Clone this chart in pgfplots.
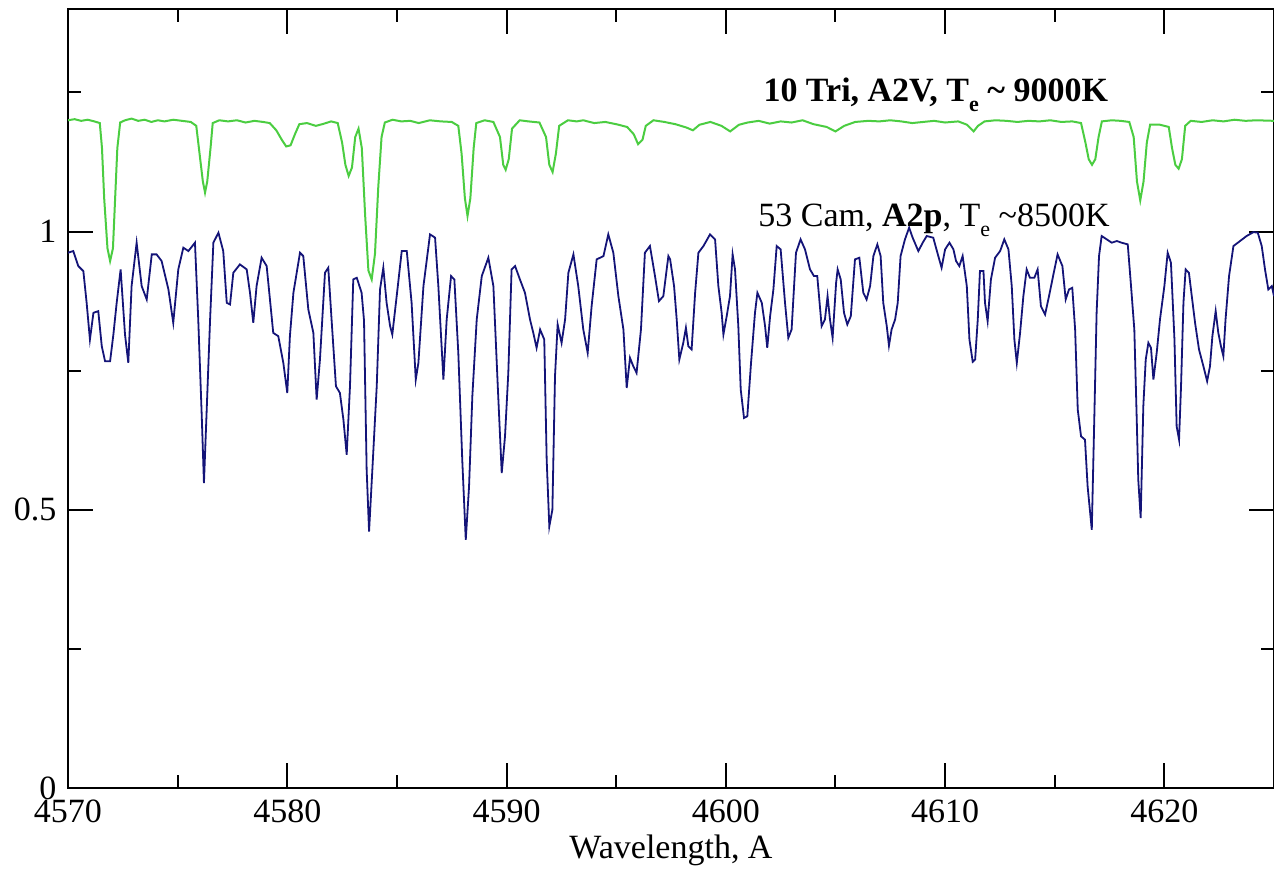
\documentclass[border=0pt]{standalone}
\usepackage{fontspec}
\setmainfont{Liberation Serif}
\usepackage{pgfplots}
\pgfplotsset{compat=1.18}
\definecolor{specgreen}{RGB}{75,205,65}
\definecolor{specblue}{RGB}{20,20,120}
\pgfplotstableread{
x y
4570.00 1.200
4570.30 1.202
4570.60 1.199
4570.90 1.201
4571.20 1.198
4571.45 1.195
4571.55 1.150
4571.65 1.060
4571.80 0.970
4571.92 0.947
4572.05 0.970
4572.15 1.060
4572.25 1.150
4572.38 1.196
4572.60 1.200
4572.90 1.203
4573.20 1.199
4573.50 1.201
4573.80 1.197
4574.10 1.200
4574.40 1.198
4574.80 1.201
4575.20 1.199
4575.60 1.197
4575.85 1.190
4576.00 1.140
4576.15 1.090
4576.25 1.070
4576.35 1.090
4576.50 1.150
4576.60 1.195
4576.90 1.200
4577.30 1.198
4577.70 1.200
4578.10 1.196
4578.50 1.199
4578.90 1.197
4579.20 1.195
4579.50 1.182
4579.75 1.165
4579.95 1.153
4580.15 1.155
4580.35 1.175
4580.55 1.193
4580.90 1.195
4581.30 1.190
4581.60 1.193
4582.00 1.198
4582.30 1.195
4582.50 1.160
4582.65 1.120
4582.80 1.100
4582.95 1.115
4583.10 1.170
4583.25 1.185
4583.40 1.150
4583.55 1.030
4583.70 0.930
4583.85 0.914
4584.00 0.960
4584.15 1.080
4584.30 1.170
4584.45 1.196
4584.80 1.201
4585.20 1.198
4585.60 1.199
4586.00 1.195
4586.50 1.200
4587.00 1.198
4587.50 1.197
4587.80 1.190
4587.95 1.140
4588.10 1.060
4588.22 1.028
4588.35 1.060
4588.50 1.150
4588.62 1.195
4589.00 1.200
4589.40 1.197
4589.70 1.170
4589.85 1.120
4589.96 1.111
4590.10 1.130
4590.25 1.185
4590.60 1.200
4591.00 1.198
4591.50 1.196
4591.80 1.170
4591.95 1.120
4592.10 1.107
4592.25 1.140
4592.40 1.190
4592.80 1.200
4593.20 1.198
4593.50 1.200
4594.00 1.195
4594.50 1.197
4595.00 1.193
4595.50 1.188
4595.80 1.175
4596.00 1.157
4596.20 1.165
4596.35 1.190
4596.70 1.200
4597.20 1.197
4597.70 1.193
4598.20 1.187
4598.50 1.182
4598.80 1.192
4599.30 1.197
4599.80 1.190
4600.20 1.180
4600.60 1.192
4601.00 1.196
4601.50 1.199
4602.00 1.194
4602.50 1.198
4603.00 1.196
4603.50 1.200
4604.00 1.193
4604.60 1.188
4605.00 1.180
4605.40 1.190
4605.90 1.197
4606.50 1.199
4607.00 1.198
4607.50 1.200
4608.00 1.198
4608.50 1.195
4609.00 1.197
4609.50 1.199
4610.00 1.196
4610.60 1.198
4611.00 1.192
4611.30 1.180
4611.50 1.190
4611.80 1.198
4612.30 1.200
4612.80 1.199
4613.30 1.197
4613.80 1.199
4614.30 1.198
4614.80 1.200
4615.30 1.197
4615.80 1.198
4616.20 1.195
4616.40 1.160
4616.55 1.130
4616.70 1.120
4616.85 1.130
4617.00 1.170
4617.15 1.198
4617.60 1.200
4618.00 1.199
4618.40 1.197
4618.60 1.170
4618.75 1.090
4618.90 1.056
4619.05 1.090
4619.20 1.160
4619.35 1.192
4619.80 1.192
4620.20 1.188
4620.35 1.150
4620.50 1.120
4620.65 1.113
4620.80 1.130
4620.95 1.190
4621.20 1.199
4621.70 1.197
4622.20 1.200
4622.70 1.198
4623.20 1.201
4623.70 1.199
4624.20 1.200
4625.00 1.199
}\greendata
\pgfplotstableread{
x y
4570.00 0.962
4570.24 0.965
4570.47 0.938
4570.70 0.929
4570.85 0.872
4571.00 0.806
4571.16 0.854
4571.38 0.857
4571.54 0.794
4571.69 0.767
4571.92 0.767
4572.07 0.815
4572.22 0.872
4572.40 0.932
4572.60 0.815
4572.75 0.764
4572.90 0.902
4573.13 0.980
4573.36 0.902
4573.59 0.878
4573.82 0.959
4574.04 0.959
4574.27 0.947
4574.58 0.896
4574.80 0.836
4575.03 0.932
4575.26 0.971
4575.49 0.965
4575.79 0.980
4575.94 0.842
4576.10 0.668
4576.20 0.548
4576.32 0.674
4576.48 0.842
4576.63 0.980
4576.86 0.998
4577.08 0.965
4577.24 0.872
4577.39 0.869
4577.54 0.926
4577.84 0.941
4578.15 0.932
4578.30 0.890
4578.45 0.836
4578.60 0.902
4578.83 0.953
4579.06 0.938
4579.36 0.818
4579.59 0.812
4579.82 0.764
4580.00 0.710
4580.12 0.812
4580.28 0.890
4580.58 0.962
4580.73 0.956
4580.96 0.860
4581.19 0.818
4581.34 0.698
4581.49 0.770
4581.72 0.926
4581.87 0.935
4582.02 0.842
4582.22 0.722
4582.40 0.710
4582.56 0.662
4582.71 0.599
4582.86 0.722
4583.01 0.914
4583.17 0.917
4583.39 0.890
4583.50 0.840
4583.62 0.572
4583.73 0.461
4583.88 0.572
4584.08 0.722
4584.23 0.896
4584.38 0.935
4584.53 0.872
4584.69 0.830
4584.79 0.815
4584.99 0.884
4585.22 0.965
4585.45 0.965
4585.67 0.872
4585.86 0.734
4585.98 0.764
4586.21 0.902
4586.51 0.995
4586.74 0.989
4586.89 0.902
4587.12 0.734
4587.27 0.842
4587.47 0.920
4587.62 0.914
4587.80 0.782
4587.98 0.590
4588.14 0.446
4588.29 0.542
4588.44 0.704
4588.64 0.842
4588.87 0.920
4589.17 0.953
4589.40 0.902
4589.60 0.722
4589.78 0.566
4589.93 0.632
4590.08 0.746
4590.23 0.932
4590.39 0.938
4590.61 0.914
4590.84 0.890
4591.07 0.842
4591.22 0.818
4591.37 0.791
4591.53 0.824
4591.72 0.806
4591.83 0.590
4591.95 0.470
4592.09 0.500
4592.21 0.740
4592.33 0.833
4592.51 0.800
4592.67 0.842
4592.82 0.926
4593.05 0.959
4593.27 0.902
4593.50 0.824
4593.70 0.782
4593.88 0.866
4594.11 0.950
4594.42 0.956
4594.64 0.995
4594.87 0.962
4595.10 0.884
4595.33 0.824
4595.48 0.719
4595.63 0.773
4595.78 0.758
4595.93 0.746
4596.13 0.824
4596.31 0.962
4596.54 0.974
4596.77 0.920
4596.95 0.875
4597.15 0.884
4597.38 0.956
4597.46 0.950
4597.64 0.902
4597.76 0.842
4597.88 0.770
4598.06 0.800
4598.18 0.827
4598.29 0.794
4598.44 0.788
4598.60 0.890
4598.75 0.962
4598.98 0.974
4599.28 0.995
4599.51 0.986
4599.66 0.902
4599.81 0.854
4599.89 0.815
4600.04 0.848
4600.19 0.884
4600.31 0.959
4600.42 0.932
4600.57 0.830
4600.68 0.716
4600.83 0.665
4600.98 0.668
4601.15 0.764
4601.33 0.854
4601.44 0.890
4601.64 0.872
4601.79 0.830
4601.89 0.791
4602.02 0.848
4602.17 0.896
4602.32 0.974
4602.50 0.968
4602.70 0.872
4602.85 0.809
4603.00 0.824
4603.20 0.962
4603.41 0.986
4603.61 0.968
4603.84 0.932
4604.02 0.920
4604.17 0.920
4604.37 0.830
4604.52 0.842
4604.64 0.884
4604.75 0.842
4604.87 0.809
4605.03 0.908
4605.10 0.932
4605.24 0.914
4605.39 0.854
4605.54 0.833
4605.70 0.848
4605.89 0.950
4606.09 0.953
4606.27 0.890
4606.42 0.878
4606.58 0.902
4606.73 0.956
4606.91 0.977
4607.06 0.956
4607.18 0.872
4607.34 0.830
4607.44 0.795
4607.56 0.824
4607.72 0.842
4607.84 0.872
4607.97 0.956
4608.17 0.986
4608.36 1.007
4608.52 0.989
4608.78 0.965
4608.98 0.980
4609.16 0.992
4609.46 0.989
4609.69 0.956
4609.84 0.935
4610.00 0.968
4610.20 0.980
4610.38 0.968
4610.50 0.947
4610.65 0.938
4610.80 0.956
4610.99 0.902
4611.11 0.806
4611.26 0.766
4611.37 0.770
4611.49 0.842
4611.59 0.929
4611.75 0.929
4611.82 0.872
4611.94 0.839
4612.09 0.914
4612.28 0.953
4612.51 0.965
4612.70 0.986
4612.89 0.968
4613.04 0.902
4613.16 0.806
4613.27 0.764
4613.42 0.818
4613.57 0.884
4613.72 0.932
4613.87 0.917
4614.07 0.917
4614.22 0.932
4614.37 0.866
4614.56 0.851
4614.74 0.884
4614.94 0.923
4615.13 0.959
4615.35 0.938
4615.50 0.878
4615.65 0.896
4615.80 0.899
4615.93 0.824
4616.05 0.680
4616.20 0.632
4616.38 0.626
4616.50 0.542
4616.69 0.464
4616.81 0.674
4616.91 0.854
4617.02 0.956
4617.14 0.992
4617.37 0.986
4617.60 0.980
4617.83 0.983
4618.05 0.980
4618.33 0.977
4618.48 0.902
4618.63 0.824
4618.74 0.662
4618.81 0.554
4618.92 0.485
4619.04 0.686
4619.15 0.770
4619.27 0.800
4619.39 0.791
4619.50 0.734
4619.65 0.782
4619.80 0.842
4620.00 0.902
4620.15 0.962
4620.30 0.944
4620.46 0.806
4620.56 0.650
4620.67 0.626
4620.76 0.722
4620.87 0.872
4620.97 0.932
4621.12 0.926
4621.25 0.884
4621.40 0.836
4621.58 0.788
4621.78 0.758
4621.95 0.731
4622.08 0.758
4622.19 0.812
4622.34 0.857
4622.46 0.818
4622.58 0.794
4622.69 0.776
4622.79 0.842
4622.95 0.920
4623.15 0.974
4623.45 0.983
4623.75 0.992
4624.06 0.999
4624.26 0.998
4624.44 0.974
4624.59 0.932
4624.74 0.896
4624.90 0.902
4625.00 0.884
}\bluedata
\newcommand{\sube}{\raisebox{-5pt}{\fontsize{11}{11}\selectfont e}}
\begin{document}
\fontsize{17}{19}\selectfont
\begin{tikzpicture}
\begin{axis}[
  width=603pt, height=389.5pt, scale only axis,
  xmin=4570, xmax=4625, ymin=0, ymax=1.4,
  xtick={4570,4580,...,4620}, minor xtick={4575,4585,...,4615},
  ytick={0,0.5,1}, minor ytick={0.25,0.75,1.25},
  tick align=inside,
  major tick length=12.5pt, minor tick length=6.5pt,
  axis line style={line width=1.2pt},
  tick style={black, line width=1pt},
  tick label style={font=\fontsize{17}{19}\selectfont},
  xticklabel style={anchor=base, yshift=-17pt},
  /pgf/number format/assume math mode=true,
  /pgf/number format/set thousands separator={},
  xlabel={Wavelength, A},
  xlabel style={font=\fontsize{17}{19}\selectfont, at={(axis description cs:0.5,0)}, anchor=base, yshift=-35pt},
  clip=true,
]
\addplot[specgreen, line width=1pt] table {\greendata};
\addplot[specblue, line width=0.9pt] table {\bluedata};
\node[anchor=base west, inner sep=0pt, font=\bfseries\fontsize{17}{19}\selectfont] at (axis cs:4601.7,1.234) {10 Tri, A2V, T\sube{} \textasciitilde{} 9000K};
\node[anchor=base west, inner sep=0pt, font=\fontsize{17}{19}\selectfont] at (axis cs:4601.47,1.009) {53 Cam, \textbf{A2p}, T\sube{}\ \textasciitilde8500K};
\end{axis}
\pgfresetboundingbox
\useasboundingbox ([shift={(-34pt,-40pt)}]current axis.south west) rectangle ([shift={(0pt,4.5pt)}]current axis.north east);
\end{tikzpicture}
\end{document}
